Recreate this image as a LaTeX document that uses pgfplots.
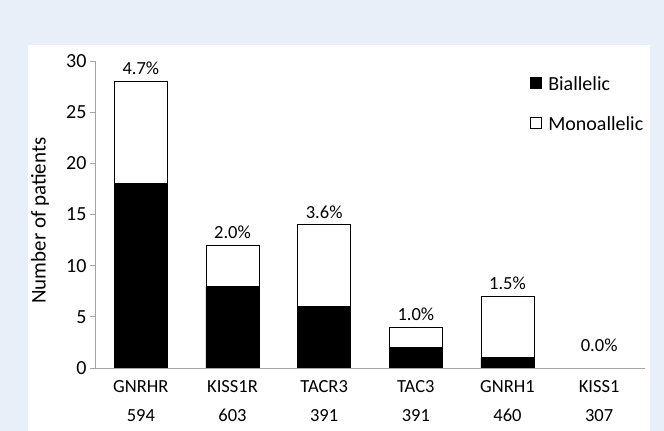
\documentclass[border=0pt]{standalone}
\usepackage{fontspec}
\setmainfont{Carlito}
\usepackage{pgfplots}
\pgfplotsset{compat=1.18}
\definecolor{bgblue}{RGB}{232,239,248}
\definecolor{axgray}{RGB}{165,165,165}
\newcommand\cf{\fontsize{18.5bp}{22bp}\selectfont}
\newcommand\tf{\fontsize{20bp}{24bp}\selectfont}
\newcommand\lf{\fontsize{21bp}{25bp}\selectfont}

\begin{document}
\begin{tikzpicture}
\fill[bgblue] (0bp,0bp) rectangle (664bp,431bp);
\fill[white] (28bp,0bp) rectangle (650bp,386bp);
\useasboundingbox (0bp,0bp) rectangle (664bp,431bp);
\begin{axis}[
  at={(95bp,63bp)}, anchor=south west,
  width=550bp, height=307bp, scale only axis,
  ybar stacked, bar width=0.58,
  xmin=-0.5, xmax=5.5, ymin=0, ymax=30,
  axis on top,
  axis x line*=bottom, axis y line*=left,
  axis line style={axgray, line width=1bp},
  ytick={0,5,...,30},
  xtick={0,...,5},
  xticklabels={{GNRHR\\[7bp]594},{KISS1R\\[7bp]603},{TACR3\\[7bp]391},{TAC3\\[7bp]391},{GNRH1\\[7bp]460},{KISS1\\[7bp]307}},
  xticklabel style={align=center, font=\cf, yshift=-4bp},
  x tick style={draw=none},
  y tick style={axgray, line width=0.8bp},
  tick align=outside, major tick length=5bp,
  yticklabel style={font=\tf},
  /pgf/number format/assume math mode=true,
  ylabel={Number of patients},
  ylabel style={font=\lf, at={(axis description cs:-0.1,0.48)}, anchor=center},
  legend style={draw=none, fill=none, font=\tf, at={(axis description cs:0.79,0.955)}, anchor=north west, row sep=20bp, inner sep=0pt,
    /tikz/every odd column/.append style={column sep=5bp}},
  legend cell align=left,
]
\addplot[fill=black, draw=black, line width=0.6bp,
  legend image code/.code={\draw[fill=black,draw=black] (0bp,-4bp) rectangle (11bp,7bp);}]
  table[x=x, y=bi] {
x bi
0 18
1 8
2 6
3 2
4 1
5 0
};
\addlegendentry{Biallelic}
\addplot[fill=white, draw=black, line width=0.6bp,
  legend image code/.code={\draw[fill=white,draw=black,line width=0.6bp] (0bp,-4bp) rectangle (11bp,7bp);}]
  table[x=x, y=mono] {
x mono
0 10
1 4
2 8
3 2
4 6
5 0
};
\addlegendentry{Monoallelic}
% invisible top layer carrying the percentage labels (KISS1 lifted, its column is empty)
\addplot[draw=none, fill=none, forget plot,
  point meta=explicit symbolic,
  nodes near coords,
  every node near coord/.append style={font=\cf, yshift=3bp, anchor=south}]
  table[x=x, y=off, meta=lab] {
x off lab
0 0.001 4.7\%
1 0.001 2.0\%
2 0.001 3.6\%
3 0.001 1.0\%
4 0.001 1.5\%
5 2 0.0\%
};
\end{axis}
\end{tikzpicture}
\end{document}
